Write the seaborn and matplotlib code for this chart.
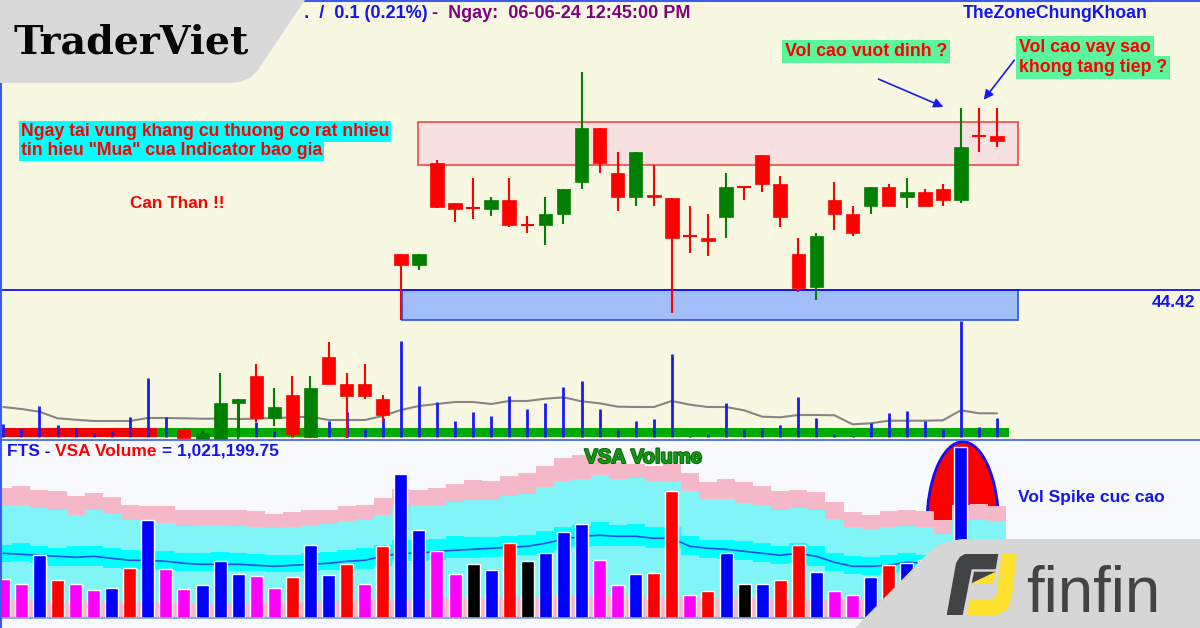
import matplotlib
matplotlib.use("Agg")
import matplotlib.pyplot as plt
import matplotlib.patheffects as pe
from matplotlib.patches import Rectangle, Ellipse, Polygon
from matplotlib.lines import Line2D
import seaborn as sns

sns.set_style("white")
plt.rcParams['font.family'] = ['Liberation Sans', 'DejaVu Sans']

# -------------------------------
# DATA
# -------------------------------

# main price candles, sitting at positions 22..55 of the shared x axis
candle_pos = list(range(22, 56))
opens = [45.18, 44.95, 47.09, 46.25, 46.14, 46.12, 46.31, 45.79, 45.79, 46.02,
         46.69, 47.83, 46.88, 46.37, 46.42, 46.36, 45.56, 45.51, 45.96, 46.59,
         47.26, 46.65, 45.18, 44.49, 46.31, 46.02, 46.19, 46.59, 46.37, 46.48,
         46.54, 46.31, 47.65, 47.65]
highs = [45.18, 45.18, 47.15, 46.25, 46.77, 46.37, 46.77, 45.97, 46.37, 46.54,
         49.00, 47.83, 47.32, 47.32, 47.05, 46.36, 46.19, 46.02, 46.88, 46.59,
         47.26, 46.81, 45.51, 45.62, 46.69, 46.19, 46.59, 46.65, 46.77, 46.54,
         46.65, 48.24, 48.24, 48.24]
lows = [43.79, 44.84, 46.14, 45.85, 45.91, 45.97, 45.74, 45.62, 45.37, 45.81,
        46.54, 46.88, 46.08, 46.18, 46.18, 43.94, 45.20, 45.13, 45.51, 46.31,
        46.48, 45.74, 44.38, 44.21, 45.68, 45.56, 46.02, 46.19, 46.14, 46.19,
        46.19, 46.25, 47.32, 47.43]
closes = [44.95, 45.18, 46.17, 46.12, 46.14, 46.31, 45.79, 45.79, 46.02, 46.54,
          47.83, 47.08, 46.37, 47.32, 46.37, 45.51, 45.56, 45.45, 46.59, 46.59,
          46.65, 45.96, 44.46, 45.56, 46.02, 45.62, 46.59, 46.19, 46.48, 46.19,
          46.31, 47.43, 47.65, 47.55]

support_price = 44.42
resist_zone = (47.05, 47.95)      # pink box
support_zone = (43.79, 44.42)     # blue box

# volume sticks and their average (thousand shares), positions 0..55
vol_pos = list(range(56))
volumes = [127, 83, 313, 120, 87, 43, 57, 203, 593, 203, 60, 77, 200, 337, 153, 60,
           30, 50, 163, 253, 80, 187, 960, 510, 350, 163, 250, 207, 410, 277, 340, 503,
           563, 277, 80, 163, 180, 830, 15, 30, 337, 80, 87, 117, 397, 187, 30, 10,
           140, 237, 257, 163, 80, 1160, 100, 193]
vol_avg = [300, 280, 253, 187, 173, 160, 160, 160, 190, 190, 187, 183, 183, 180, 183, 190,
           197, 203, 170, 170, 170, 210, 270, 310, 330, 350, 350, 330, 360, 360, 383, 397,
           357, 337, 303, 300, 300, 360, 323, 300, 300, 267, 203, 197, 220, 220, 217, 127,
           137, 163, 163, 163, 167, 267, 237, 237]

# older candles drawn inside the volume strip (volume-scale units)
old_pos = [10, 11, 12, 13, 14, 15, 16, 17, 18, 19, 20, 21]
old_open = [77, -23, -23, 343, 610, 193, 417, 0, 797, 530, 530, 377]
old_high = [77, 80, 637, 377, 727, 493, 610, 610, 947, 637, 727, 420]
old_low = [-13, -23, -23, -23, 153, 113, 0, -13, 530, -13, 377, 153]
old_close = [-13, 37, 343, 377, 187, 300, 30, 493, 530, 413, 413, 220]

# VSA panel
vsa_values = [39, 34, 63, 38, 34, 28, 30, 50, 98, 49, 29, 33, 57, 44, 42, 30,
              41, 73, 43, 54, 34, 72, 144, 88, 67, 44, 54, 48, 75, 57, 65, 86,
              94, 58, 33, 44, 45, 127, 23, 27, 65, 34, 34, 38, 73, 46, 27, 23,
              41, 53, 55, 58, 48, 171, 45, 30]
vsa_kind = ['m', 'm', 'b', 'r', 'm', 'm', 'b', 'r', 'b', 'm', 'm', 'b', 'b', 'b', 'm', 'm',
            'r', 'b', 'b', 'r', 'm', 'r', 'b', 'b', 'm', 'm', 'k', 'b', 'r', 'k', 'b', 'b',
            'b', 'm', 'm', 'b', 'r', 'r', 'm', 'r', 'b', 'k', 'b', 'r', 'r', 'b', 'm', 'm',
            'b', 'r', 'b', 'r', 'b', 'b', 'b', 'm']
band_top = [130, 132, 128, 127, 122, 125, 121, 113, 112, 112, 108, 108, 108, 108, 107, 104,
            106, 108, 108, 112, 113, 120, 129, 128, 130, 134, 138, 137, 142, 145, 152, 160,
            163, 163, 156, 154, 152, 154, 145, 136, 139, 136, 132, 127, 128, 126, 116, 106,
            103, 107, 108, 107, 98, 113, 114, 112]
band_high = [112, 113, 110, 108, 103, 108, 104, 98, 97, 95, 92, 93, 93, 92, 91, 90,
             91, 93, 94, 97, 98, 103, 110, 112, 113, 116, 118, 118, 122, 124, 131, 137,
             139, 143, 139, 140, 137, 137, 127, 119, 119, 115, 112, 108, 110, 108, 99, 91,
             89, 91, 92, 91, 84, 98, 98, 97]
band_mid_top = [73, 75, 72, 70, 72, 72, 70, 68, 67, 67, 65, 65, 66, 65, 64, 63,
                63, 65, 66, 68, 70, 73, 78, 78, 79, 82, 81, 81, 82, 83, 87, 91,
                93, 96, 93, 94, 91, 91, 82, 78, 78, 77, 75, 72, 75, 72, 65, 62,
                61, 63, 65, 63, 63, 67, 67, 66]
vsa_avg = [65, 64, 63, 62, 61, 62, 60, 58, 58, 57, 55, 54, 54, 54, 53, 52,
           53, 54, 55, 57, 58, 62, 65, 65, 67, 68, 69, 70, 71, 72, 75, 79,
           82, 83, 82, 82, 80, 80, 72, 70, 69, 67, 65, 63, 65, 62, 56, 52,
           52, 53, 56, 55, 54, 58, 58, 57]
band_mid_bot = [56, 57, 55, 52, 52, 52, 50, 49, 48, 48, 47, 47, 47, 47, 47, 46,
                46, 47, 48, 48, 49, 52, 57, 57, 58, 60, 60, 61, 62, 63, 65, 68,
                71, 72, 72, 72, 70, 70, 63, 60, 59, 58, 56, 54, 55, 52, 47, 44,
                43, 45, 47, 46, 46, 50, 49, 48]
band_low = [19, 18, 18, 17, 17, 17, 17, 16, 16, 16, 15, 15, 15, 15, 15, 16,
            16, 16, 17, 17, 18, 18, 19, 19, 19, 20, 20, 20, 21, 21, 21, 22,
            22, 22, 22, 21, 21, 21, 21, 20, 20, 20, 20, 19, 19, 19, 19, 19,
            19, 19, 19, 19, 19, 19, 19, 19]

RED = '#FF0000'
GREEN = '#008000'
BLUE = '#1414F0'
kind_colors = {'m': '#FF00FF', 'b': '#0000FF', 'r': '#FF0000', 'k': '#000000'}


def fx(x):
    return x / 1200


def fy(y):
    return 1 - y / 628


def draw_candles(ax, pos, o, h, l, c, width, lw):
    for x, oo, hh, ll, cc in zip(pos, o, h, l, c):
        col = GREEN if cc > oo else RED
        ax.vlines(x, ll, hh, color=col, lw=lw, zorder=3)
        if oo == cc:
            ax.hlines(oo, x - width / 2, x + width / 2, color=col, lw=lw, zorder=3)
        else:
            ax.add_patch(Rectangle((x - width / 2, min(oo, cc)), width, abs(cc - oo),
                                   facecolor=col, edgecolor=col, lw=0.5, zorder=4))


def clean(ax):
    ax.set_xticks([])
    ax.set_yticks([])
    ax.set_xlabel('')
    ax.set_ylabel('')
    for s in ax.spines.values():
        s.set_visible(False)


fig = plt.figure(figsize=(12, 6.28), dpi=100)
XLIM = (-0.183, 66.23)

# -------------------------------
# PRICE PANEL
# -------------------------------
ax = fig.add_axes([0, 188 / 628, 1, 440 / 628])
ax.set_facecolor('#F8F8E2')
ax.set_xlim(*XLIM)
ax.set_ylim(41.27, 50.51)

ax.add_patch(Rectangle((22.95, resist_zone[0]), 33.2, resist_zone[1] - resist_zone[0],
                       facecolor='#F6E0E0', edgecolor='#F04848', lw=1.2, zorder=1))
ax.add_patch(Rectangle((22.06, support_zone[0]), 34.09, support_zone[1] - support_zone[0],
                       facecolor='#A2BEFA', edgecolor='#2850F0', lw=1.2, zorder=1))
ax.axhline(support_price, color='#1010F0', lw=1.3, zorder=2)
draw_candles(ax, candle_pos, opens, highs, lows, closes, 0.75, 1.5)
clean(ax)

# volume overlay
ax2 = ax.twinx()
ax2.set_xlim(*XLIM)
ax2.set_ylim(-30, 4370)
ax2.add_patch(Rectangle((-0.183, 3), 8.67, 90, facecolor='#F00000', lw=0, zorder=1))
ax2.add_patch(Rectangle((8.49, 3), 47.17, 90, facecolor='#00AA00', lw=0, zorder=1))
ax2.vlines(vol_pos, 0, volumes, color='#1A1AF5', lw=2.0, zorder=3)
sns.lineplot(x=vol_pos, y=vol_avg, ax=ax2, color='#858585', lw=1.5, zorder=2)
draw_candles(ax2, old_pos, old_open, old_high, old_low, old_close, 0.72, 1.5)
clean(ax2)

# -------------------------------
# VSA PANEL
# -------------------------------
axb = fig.add_axes([0, 0, 1, 188 / 628])
axb.set_facecolor('#F8F9FD')

axb.add_patch(Ellipse((53.1, 93), 3.98, 167, facecolor='#FF0000', edgecolor='#1010F0',
                      lw=2, zorder=1.5))
band_kw = dict(width=1.0, linewidth=0, antialiased=False, zorder=2)
axb.bar(vol_pos, band_low, bottom=0, color='#F5B8C8', **band_kw)
axb.bar(vol_pos, [t - b for t, b in zip(band_high, band_low)], bottom=band_low,
        color='#80F4F6', **band_kw)
axb.bar(vol_pos, [t - b for t, b in zip(band_mid_top, band_mid_bot)], bottom=band_mid_bot,
        color='#00FFFF', **band_kw)
axb.bar(vol_pos, [t - b for t, b in zip(band_top, band_high)], bottom=band_high,
        color='#F5B8C8', **band_kw)
sns.lineplot(x=vol_pos, y=vsa_avg, ax=axb, color='#1E50E8', lw=1.2, zorder=3)

sns.barplot(x=vol_pos, y=vsa_values, hue=vsa_kind, palette=kind_colors, dodge=False,
            native_scale=True, width=0.72, errorbar=None, legend=False, saturation=1,
            ax=axb, zorder=4)
axb.axhline(0, color='#7D9CF2', lw=1.2, zorder=5)
axb.set_xlim(*XLIM)
axb.set_ylim(-9.7, 178.3)
clean(axb)

# -------------------------------
# TEXT AND ANNOTATIONS
# -------------------------------
bold = dict(fontweight='bold', va='baseline')

fig.text(fx(428), fy(18), '47.6    .  /  0.1 (0.21%)', ha='right', color=BLUE,
         fontsize=13, zorder=4, **bold)
fig.text(fx(432), fy(18), '-  Ngay:  06-06-24 12:45:00 PM', ha='left', color='#800080',
         fontsize=13, **bold)
fig.text(fx(963), fy(18), 'TheZoneChungKhoan', ha='left', color=BLUE, fontsize=12.7, **bold)

green_box = dict(facecolor='#5CF59C', edgecolor='none', pad=2)
cyan_box = dict(facecolor='#00FFFF', edgecolor='none', pad=1.5)
fig.text(fx(785), fy(56), 'Vol cao vuot dinh ?', ha='left', color=RED, fontsize=12.8,
         bbox=green_box, **bold)
fig.text(fx(1019), fy(52), 'Vol cao vay sao', ha='left', color=RED, fontsize=12.8,
         bbox=green_box, **bold)
fig.text(fx(1019), fy(72), 'khong tang tiep ?', ha='left', color=RED, fontsize=12.8,
         bbox=green_box, **bold)
fig.text(fx(21), fy(136), 'Ngay tai vung khang cu thuong co rat nhieu', ha='left',
         color=RED, fontsize=12.7, bbox=cyan_box, **bold)
fig.text(fx(21), fy(155), 'tin hieu "Mua" cua Indicator bao gia', ha='left',
         color=RED, fontsize=12.7, bbox=cyan_box, **bold)
fig.text(fx(130), fy(208), 'Can Than !!', ha='left', color=RED, fontsize=12.3, **bold)
fig.text(fx(1195), fy(307), '44.42', ha='right', color=BLUE, fontsize=12.5, **bold)

arrow = dict(arrowstyle='-|>', color='#1A1AF0', lw=1.2, mutation_scale=14)
ax.annotate('', xy=(946, 628 - 108), xytext=(876, 628 - 78), xycoords='figure pixels',
            textcoords='figure pixels', arrowprops=arrow)
ax.annotate('', xy=(982, 628 - 102), xytext=(1016, 628 - 58), xycoords='figure pixels',
            textcoords='figure pixels', arrowprops=arrow)

# VSA title
t = fig.text(fx(7), fy(456), 'FTS - ', ha='left', color=BLUE, fontsize=12.5, **bold)
fig.canvas.draw()
r = fig.canvas.get_renderer()
bb = t.get_window_extent(r)
t2 = fig.text(bb.x1 / 1200, fy(456), 'VSA Volume', ha='left', color=RED, fontsize=12.5, **bold)
bb2 = t2.get_window_extent(r)
fig.text(bb2.x1 / 1200, fy(456), ' = 1,021,199.75', ha='left', color=BLUE, fontsize=12.5, **bold)

fig.text(fx(643), fy(463), 'VSA Volume', ha='center', color='#129A12', fontsize=14.5,
         path_effects=[pe.withStroke(linewidth=1.4, foreground='#0B5E0B')], **bold)
fig.text(fx(1018), fy(502), 'Vol Spike cuc cao', ha='left', color=BLUE, fontsize=12.5, **bold)

# panel borders
for line in [
    Line2D([0, 1], [fy(440), fy(440)], color='#3C5CF0', lw=1.2),
    Line2D([fx(300), 1], [fy(0.8), fy(0.8)], color='#3C5CF0', lw=1.5),
    Line2D([fx(1), fx(1)], [fy(83), 0], color='#3C5CF0', lw=1.5),
]:
    line.set_transform(fig.transFigure)
    fig.add_artist(line)

# -------------------------------
# LOGOS
# -------------------------------
tv_shape = [(0, 0), (305, 0), (258, 70), (250, 78), (240, 82), (230, 83), (0, 83)]
fig.add_artist(Polygon([(fx(x), fy(y)) for x, y in tv_shape], closed=True,
                       transform=fig.transFigure, facecolor='#D9D9D9', lw=0, zorder=5))
fig.text(fx(14), fy(54), 'TraderViet', ha='left', va='baseline', fontsize=28.5,
         fontweight='bold', family='DejaVu Serif', color='#050505', zorder=6)

ff_shape = [(855, 628), (928, 553), (938, 545), (950, 541), (962, 539), (1200, 539), (1200, 628)]
fig.add_artist(Polygon([(fx(x), fy(y)) for x, y in ff_shape], closed=True,
                       transform=fig.transFigure, facecolor='#D6D6D6', lw=0, zorder=5))
f_shape = [(946.7, 615), (956, 563.3), (960, 556.7), (965, 554), (998.3, 554),
           (995.7, 569.3), (971.7, 569.3), (962.7, 615)]
f_mid = [(974, 571.7), (996, 571.7), (971.7, 583.3)]
j_mid = [(996, 571.7), (993.3, 583.3), (971.7, 583.3)]
j_shape = [(1001.7, 554), (1016.7, 554), (1011.7, 598.3), (1006.7, 610), (996.7, 615),
           (967.3, 615), (969.3, 600), (993.3, 600), (996.7, 593.3)]
for shape, col in [(f_shape, '#414345'), (f_mid, '#414345'), (j_mid, '#FDE12D'), (j_shape, '#FDE12D')]:
    fig.add_artist(Polygon([(fx(x), fy(y)) for x, y in shape], closed=True,
                           transform=fig.transFigure, facecolor=col, lw=0, zorder=6))
fig.text(fx(1026), fy(612), 'finfin', ha='left', va='baseline', fontsize=46,
         family='Liberation Sans', color='#414345', zorder=6)

fig.savefig('out.png', dpi=100)
